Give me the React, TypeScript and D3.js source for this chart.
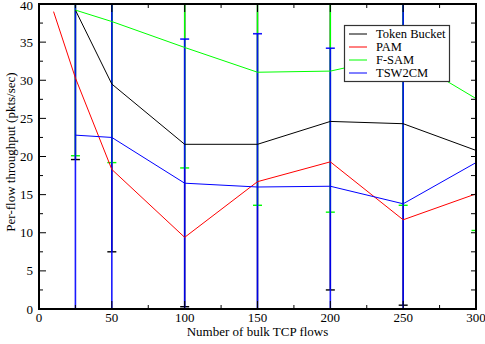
import React from "react";
import * as d3 from "d3";

const flows = [25, 50, 100, 150, 200, 250, 300];
const pamFlows = [10, 25, 50, 100, 150, 200, 250, 300];

const tokenBucket = [39.2, 29.5, 21.6, 21.6, 24.6, 24.3, 20.8];
const tokenBucketErr = [19.6, 22.0, 21.3, 23.0, 22.1, 23.8, 21.5];
const pam = [39.0, 30.3, 18.3, 9.4, 16.7, 19.3, 11.7, 15.1];
const fsam = [39.2, 37.7, 34.3, 31.05, 31.2, 33.3, 27.6];
const fsamErr = [19.1, 18.5, 15.8, 17.45, 18.5, 19.7, 17.3];
const tsw2cm = [22.8, 22.5, 16.5, 16.0, 16.1, 13.8, 19.2];
const tsw2cmErr = [24.0, 24.0, 18.9, 20.1, 18.1, 27.0, 21.0];

const seriesNames = ["Token Bucket", "PAM", "F-SAM", "TSW2CM"];
const seriesColors = ["#000000", "#ff0000", "#00ff00", "#0000ff"];

const xMajor = [0, 50, 100, 150, 200, 250, 300];
const yMajor = [0, 5, 10, 15, 20, 25, 30, 35, 40];

const W = 485;
const H = 344;
const L = 39, R = 476, T = 4, B = 309;
const FONT = '"Liberation Serif", "DejaVu Serif", serif';

export default function App() {
  const x = d3.scaleLinear().domain([0, 300]).range([L, R]);
  const y = d3.scaleLinear().domain([0, 40]).range([B, T]);
  const line = d3
    .line<[number, number]>()
    .x((d) => x(d[0]))
    .y((d) => y(d[1]));

  const xMinor = d3.range(25, 300, 50);
  const yMinor = d3.range(2.5, 40, 5);

  const errSets = [
    { vals: tokenBucket, err: tokenBucketErr, color: seriesColors[0], op: 1, w: 1.4 },
    { vals: fsam, err: fsamErr, color: seriesColors[2], op: 1, w: 1.4 },
    { vals: tsw2cm, err: tsw2cmErr, color: seriesColors[3], op: 0.9, w: 1.6 },
  ];

  const lines = [
    { xs: flows, vals: tokenBucket, color: seriesColors[0] },
    { xs: pamFlows, vals: pam, color: seriesColors[1] },
    { xs: flows, vals: fsam, color: seriesColors[2] },
    { xs: flows, vals: tsw2cm, color: seriesColors[3] },
  ];

  const txt = { fontFamily: FONT };

  return (
    <svg
      width={W}
      height={H}
      style={{ position: "absolute", left: 0, top: 0, background: "#fff", fontFamily: FONT }}
    >
      <defs>
        <clipPath id="plotClip">
          <rect x={L} y={T} width={R - L} height={B - T} />
        </clipPath>
      </defs>
      <rect x={0} y={0} width={W} height={H} fill="#fff" />

      <g clipPath="url(#plotClip)">
        {errSets.map((s, si) =>
          flows.map((f, i) => {
            const lo = s.vals[i] - s.err[i];
            const hi = s.vals[i] + s.err[i];
            const cx = x(f);
            return (
              <g key={`e${si}-${i}`} stroke={s.color} strokeOpacity={s.op} strokeWidth={s.w}>
                <line x1={cx} x2={cx} y1={y(lo)} y2={y(hi)} />
                <line x1={cx - 4.5} x2={cx + 4.5} y1={y(lo)} y2={y(lo)} />
                <line x1={cx - 4.5} x2={cx + 4.5} y1={y(hi)} y2={y(hi)} />
              </g>
            );
          })
        )}
        {lines.map((s, si) => (
          <path
            key={`l${si}`}
            d={line(s.xs.map((f, i) => [f, s.vals[i]] as [number, number])) || ""}
            fill="none"
            stroke={s.color}
            strokeWidth={1}
          />
        ))}
      </g>

      {/* ticks */}
      <g stroke="#000" strokeWidth={1}>
        {xMajor.map((v) => (
          <g key={`xt${v}`}>
            <line x1={x(v)} x2={x(v)} y1={B} y2={B - 8} />
            <line x1={x(v)} x2={x(v)} y1={T} y2={T + 8} />
          </g>
        ))}
        {xMinor.map((v) => (
          <g key={`xm${v}`}>
            <line x1={x(v)} x2={x(v)} y1={B} y2={B - 4} />
            <line x1={x(v)} x2={x(v)} y1={T} y2={T + 4} />
          </g>
        ))}
        {yMajor.map((v) => (
          <g key={`yt${v}`}>
            <line x1={L} x2={L + 7} y1={y(v)} y2={y(v)} />
            <line x1={R} x2={R - 5} y1={y(v)} y2={y(v)} />
          </g>
        ))}
        {yMinor.map((v) => (
          <g key={`ym${v}`}>
            <line x1={L} x2={L + 4} y1={y(v)} y2={y(v)} />
            <line x1={R} x2={R - 5} y1={y(v)} y2={y(v)} />
          </g>
        ))}
      </g>

      <rect x={L} y={T} width={R - L} height={B - T} fill="none" stroke="#000" strokeWidth={2} />

      {/* tick labels */}
      <g fontSize={13} fill="#000">
        {xMajor.map((v) => (
          <text key={`xl${v}`} x={x(v)} y={322} textAnchor="middle" style={txt}>
            {v}
          </text>
        ))}
        {yMajor.map((v) => (
          <text key={`yl${v}`} x={33} y={Math.max(y(v) + 4.5, 10)} textAnchor="end" style={txt}>
            {v}
          </text>
        ))}
      </g>

      <text x={x(150)} y={336} textAnchor="middle" fontSize={13} fill="#000" style={txt}>
        Number of bulk TCP flows
      </text>
      <text
        transform={`translate(15,152) rotate(-90)`}
        textAnchor="middle"
        fontSize={13}
        fill="#000"
        style={txt}
      >
        Per-flow throughput (pkts/sec)
      </text>

      {/* legend */}
      <g>
        <rect x={344.5} y={25.5} width={105} height={56} fill="#fff" stroke="#333" strokeWidth={1.2} />
        {seriesNames.map((n, i) => (
          <g key={`lg${i}`}>
            <line x1={349} x2={367} y1={34 + i * 13} y2={34 + i * 13} stroke={seriesColors[i]} strokeWidth={1} />
            <text x={376} y={38 + i * 13} fontSize={12.5} fill="#000" style={txt}>
              {n}
            </text>
          </g>
        ))}
      </g>
    </svg>
  );
}
